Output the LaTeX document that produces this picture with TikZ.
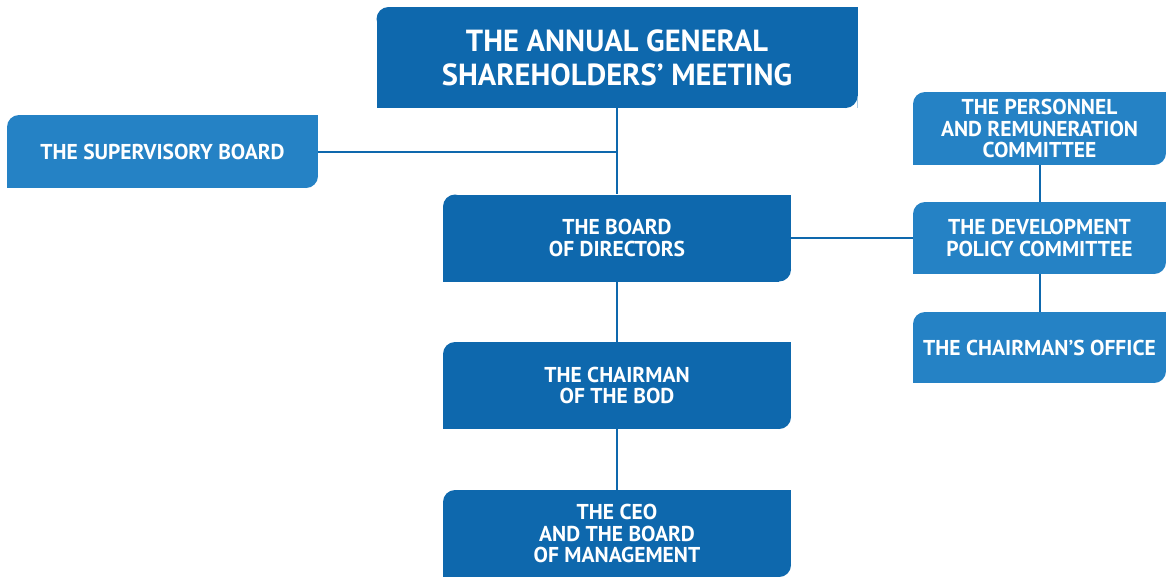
\documentclass[tikz,border=0pt]{standalone}
\usepackage{fontspec}
\setmainfont{PT Sans}
\usepackage{tikz}
\usetikzlibrary{positioning}
\definecolor{OrgDark}{RGB}{14,104,173}
\definecolor{OrgLight}{RGB}{37,130,197}
\newcommand{\cornerR}{12pt}
\tikzset{
  orgbox/.style={fill=#1,text=white,align=center,inner sep=0pt,
    font=\bfseries\fontsize{21.5}{21.5}\selectfont,
    path picture={
      \fill[white] (path picture bounding box.north west) rectangle ++(\cornerR,-\cornerR);
      \fill[#1] ([shift={(\cornerR,-\cornerR)}]path picture bounding box.north west) circle[radius=\cornerR];
      \fill[white] (path picture bounding box.south east) rectangle ++(-\cornerR,\cornerR);
      \fill[#1] ([shift={(-\cornerR,\cornerR)}]path picture bounding box.south east) circle[radius=\cornerR];
    }},
  mainbox/.style={orgbox=OrgDark,minimum width=348pt,minimum height=87pt},
  sidebox/.style={orgbox=OrgLight,minimum width=253pt},
  link/.style={draw=OrgDark,line width=2pt}
}
\begin{document}
\begin{tikzpicture}[x=1pt,y=-1pt]
\useasboundingbox (0,0) rectangle (1166,576);
% main column
\node[orgbox=OrgDark,minimum width=481pt,minimum height=101pt,
  font=\bfseries\fontsize{30.5}{34}\selectfont] (agm) at (617,57.5)
  {THE ANNUAL GENERAL\\SHAREHOLDERS’ MEETING};
\node[mainbox] (bod) at (617,238) {THE BOARD\\OF DIRECTORS};
\node[mainbox] (chair) at (617,385.5) {THE CHAIRMAN\\OF THE BOD};
\node[mainbox] (ceo) at (617,533.5) {THE CEO\\AND THE BOARD\\OF MANAGEMENT};
% left
\node[orgbox=OrgLight,minimum width=311pt,minimum height=73pt] (sup) at (162.5,151.5)
  {THE SUPERVISORY BOARD};
% committees
\node[sidebox,minimum height=73pt] (pers) at (1039.5,128.5)
  {THE PERSONNEL\\AND REMUNERATION\\COMMITTEE};
\node[sidebox,minimum height=72pt] (dev) at (1039.5,238)
  {THE DEVELOPMENT\\POLICY COMMITTEE};
\node[sidebox,minimum height=71pt] (office) at (1039.5,347.5)
  {THE CHAIRMAN’S OFFICE};
% connectors
\draw[link] (agm) -- (bod);
\draw[link] (sup.east) -- (sup.east -| agm.south);
\draw[link] (bod) -- (chair);
\draw[link] (chair) -- (ceo);
\draw[link] (bod) -- (dev);
\draw[link] (pers) -- (dev);
\draw[link] (dev) -- (office);
\end{tikzpicture}
\end{document}
